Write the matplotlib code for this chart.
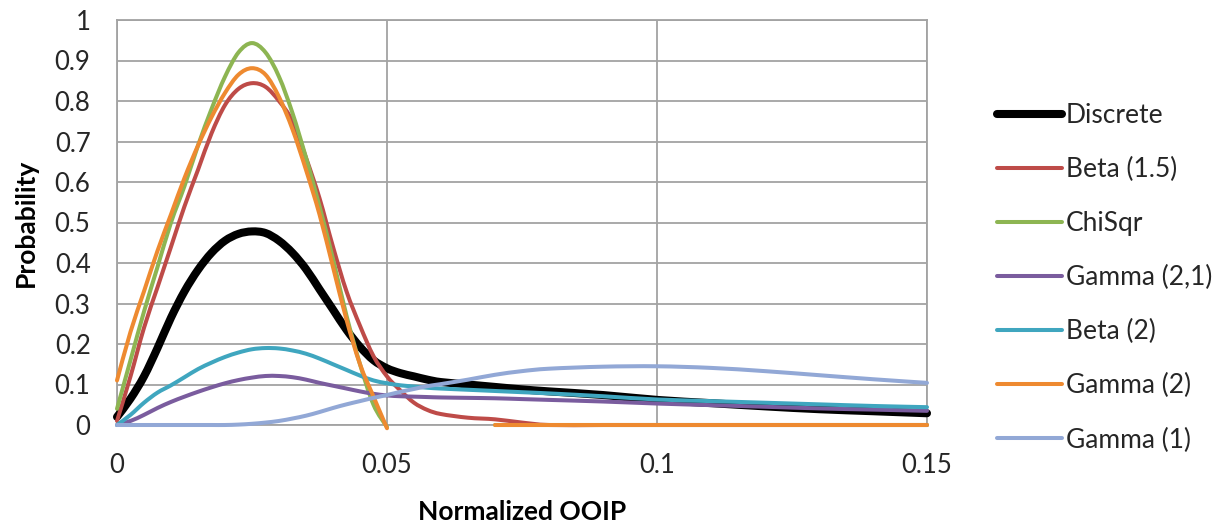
import numpy as np
import matplotlib
matplotlib.use("Agg")
import matplotlib.pyplot as plt
from matplotlib.path import Path
from matplotlib.patches import PathPatch
from matplotlib.lines import Line2D

nan = np.nan
x = [0, .0025, .005, .0075, .01, .0125, .015, .0175, .02, .0225, .025, .0275,
     .03, .0325, .035, .0375, .04, .0425, .045, .0475, .05, .0525, .055, .0575,
     .06, .065, .07, .075, .08, .09, .1, .11, .12, .13, .14, .15]

discrete = [0.02, 0.065, 0.12, 0.19, 0.265, 0.33, 0.383, 0.425, 0.455, 0.472, 0.478, 0.474,
            0.455, 0.425, 0.385, 0.335, 0.285, 0.235, 0.193, 0.16, 0.14, 0.128, 0.12, 0.112,
            0.106, 0.1, 0.094, 0.088, 0.083, 0.074, 0.062, 0.054, 0.046, 0.039, 0.034, 0.029]
beta15 = [0.01, 0.12, 0.24, 0.34, 0.44, 0.54, 0.63, 0.72, 0.79, 0.83, 0.844, 0.835,
          0.80, 0.75, 0.66, 0.56, 0.44, 0.33, 0.245, 0.17, 0.12, 0.085, 0.055, 0.037,
          0.027, 0.018, 0.014, 0.006, 0.0, 0.0, 0.0, 0.0, 0.0, 0.0, 0.0, 0.0]
chisqr = [0.04, 0.16, 0.28, 0.39, 0.50, 0.59, 0.69, 0.78, 0.86, 0.92, 0.943, 0.92,
          0.86, 0.77, 0.66, 0.54, 0.41, 0.27, 0.15, 0.05, -0.005, nan, nan, nan,
          nan, nan, 0.0, 0.0, 0.0, 0.0, 0.0, 0.0, 0.0, 0.0, 0.0, 0.0]
gamma21 = [0.0, 0.01, 0.025, 0.042, 0.057, 0.07, 0.082, 0.093, 0.103, 0.111, 0.117, 0.121,
           0.121, 0.118, 0.112, 0.104, 0.097, 0.09, 0.083, 0.077, 0.073, 0.071, 0.07, 0.069,
           0.068, 0.067, 0.066, 0.064, 0.062, 0.058, 0.053, 0.049, 0.045, 0.041, 0.038, 0.035]
beta2 = [0.0, 0.025, 0.055, 0.08, 0.098, 0.118, 0.138, 0.154, 0.168, 0.179, 0.187, 0.19,
         0.189, 0.184, 0.176, 0.164, 0.15, 0.136, 0.122, 0.11, 0.103, 0.098, 0.095, 0.092,
         0.09, 0.087, 0.084, 0.081, 0.078, 0.071, 0.063, 0.059, 0.055, 0.051, 0.047, 0.044]
gamma2 = [0.11, 0.23, 0.33, 0.43, 0.52, 0.61, 0.69, 0.76, 0.82, 0.865, 0.881, 0.865,
          0.81, 0.73, 0.63, 0.52, 0.39, 0.26, 0.15, 0.07, -0.008, nan, nan, nan,
          nan, nan, 0.0, 0.0, 0.0, 0.0, 0.0, 0.0, 0.0, 0.0, 0.0, 0.0]
gamma1 = [0.0, 0.0, 0.0, 0.0, 0.0, 0.0, 0.0, 0.0, 0.0, 0.001, 0.003, 0.006,
          0.01, 0.016, 0.023, 0.032, 0.042, 0.051, 0.059, 0.067, 0.074, 0.082, 0.089, 0.096,
          0.101, 0.112, 0.124, 0.133, 0.139, 0.144, 0.145, 0.141, 0.133, 0.123, 0.113, 0.104]

labels = ["Discrete", "Beta (1.5)", "ChiSqr", "Gamma (2,1)", "Beta (2)", "Gamma (2)", "Gamma (1)"]
series = [discrete, beta15, chisqr, gamma21, beta2, gamma2, gamma1]
colors = ["#000000", "#BE4B48", "#8DB552", "#7A5C9E", "#3FA6BF", "#EE8A30", "#92A8D6"]
widths = [5.8, 2.9, 2.9, 2.9, 2.9, 2.9, 2.9]

xticks = [0, 0.05, 0.1, 0.15]
xtick_labels = ["0", "0.05", "0.1", "0.15"]
yticks = [0, 0.1, 0.2, 0.3, 0.4, 0.5, 0.6, 0.7, 0.8, 0.9, 1.0]
ytick_labels = ["0", "0.1", "0.2", "0.3", "0.4", "0.5", "0.6", "0.7", "0.8", "0.9", "1"]


def smooth_path(xs, ys):
    """Excel-style smoothed line: Catmull-Rom segments as cubic Bezier curves."""
    segs, cur = [], []
    for a, b in zip(xs, ys):
        if np.isnan(b):
            if cur:
                segs.append(cur)
            cur = []
        else:
            cur.append((a, b))
    if cur:
        segs.append(cur)
    verts, codes = [], []
    for seg in segs:
        P = np.array(seg, dtype=float)
        n = len(P)
        verts.append(P[0]); codes.append(Path.MOVETO)
        for i in range(n - 1):
            p0 = P[i - 1] if i > 0 else P[i]
            p1, p2 = P[i], P[i + 1]
            p3 = P[i + 2] if i + 2 < n else P[i + 1]
            c1 = p1 + (p2 - p0) / 6.0
            c2 = p2 - (p3 - p1) / 6.0
            verts += [c1, c2, p2]
            codes += [Path.CURVE4] * 3
    return Path(verts, codes)


plt.rcParams['font.family'] = ['Lato', 'DejaVu Sans']

fig = plt.figure(figsize=(12.26, 5.23), dpi=100)
ax = fig.add_axes([117/1226, 1 - 425/523, 810/1226, 405/523])

handles = []
for ys, lab, c, lw in zip(series, labels, colors, widths):
    patch = PathPatch(smooth_path(x, ys), facecolor='none', edgecolor=c, lw=lw,
                      capstyle='round', joinstyle='round', clip_on=False, zorder=3)
    ax.add_patch(patch)
    handles.append(Line2D([], [], color=c, lw=lw, solid_capstyle='round', label=lab))

ax.set_xlim(0, 0.15)
ax.set_ylim(0, 1)
ax.set_xticks(xticks)
ax.set_xticklabels(xtick_labels)
ax.set_yticks(yticks)
ax.set_yticklabels(ytick_labels)
ax.grid(True, color="#A3A3A3", lw=1.3, zorder=0)
ax.set_axisbelow(True)
for s in ax.spines.values():
    s.set_color("#A3A3A3")
    s.set_linewidth(1.3)
ax.tick_params(length=0, labelsize=18.5, colors="#262626")
ax.tick_params(axis='x', pad=20)
ax.tick_params(axis='y', pad=19)
ax.set_xlabel("Normalized OOIP", fontsize=19, fontweight='bold', labelpad=16)
ax.set_ylabel("Probability", fontsize=19, fontweight='bold', labelpad=12)

leg = fig.legend(handles=handles, labels=labels, loc='upper left',
                 bbox_to_anchor=(997/1226, 1 - 103/523),
                 frameon=False, fontsize=19, handlelength=2.45, handletextpad=0.15,
                 labelspacing=1.1, borderaxespad=0, borderpad=0)
for t in leg.get_texts():
    t.set_color("#262626")

fig.savefig("out.png", dpi=100)
